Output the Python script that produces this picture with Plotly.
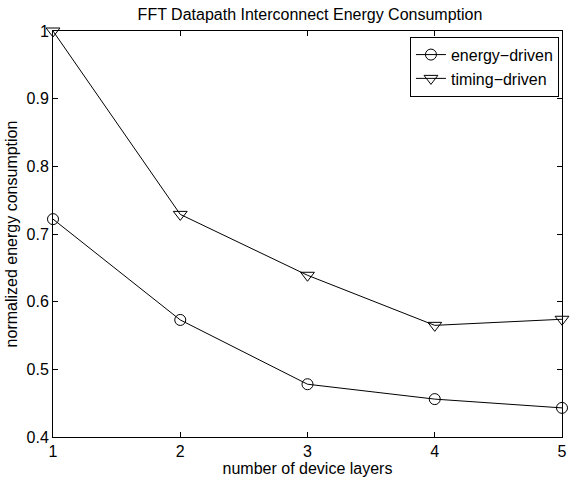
import plotly.graph_objects as go

layers = [1, 2, 3, 4, 5]
energy_driven = [0.722, 0.573, 0.478, 0.456, 0.443]
timing_driven = [1.0, 0.729, 0.639, 0.565, 0.574]
y_ticks = [0.4, 0.5, 0.6, 0.7, 0.8, 0.9, 1.0]
y_ticktext = ["0.4", "0.5", "0.6", "0.7", "0.8", "0.9", "1"]
x_ticks = [1, 2, 3, 4, 5]

FONT = "Liberation Sans, Arial, Helvetica, sans-serif"
FS = 16

fig = go.Figure()
fig.add_trace(go.Scatter(
    x=layers, y=energy_driven, mode="lines+markers", name="energy\u2212driven",
    line=dict(color="black", width=1),
    marker=dict(symbol="circle-open", size=11, color="black", line=dict(width=1)),
    cliponaxis=False,
))
fig.add_trace(go.Scatter(
    x=layers, y=timing_driven, mode="lines+markers", name="timing\u2212driven",
    line=dict(color="black", width=1),
    marker=dict(symbol="triangle-down-open", size=12, color="black", line=dict(width=1)),
    cliponaxis=False,
))

axis_common = dict(
    showgrid=False, zeroline=False, showline=True, linecolor="black", linewidth=1,
    mirror="ticks", ticks="inside", ticklen=5, tickcolor="black", tickwidth=1,
    tickfont=dict(family=FONT, size=FS, color="black"),
    ticklabeloverflow="allow",
)

fig.update_layout(
    width=571, height=481,
    margin=dict(l=53, r=4, t=31, b=44),
    paper_bgcolor="white", plot_bgcolor="white",
    font=dict(family=FONT, size=FS, color="black"),
    title=dict(text="FFT Datapath Interconnect Energy Consumption",
               x=(53 + 567) / 2 / 571, xanchor="center",
               yref="container", y=1 - 14 / 481, yanchor="middle",
               font=dict(family=FONT, size=FS, color="black")),
    xaxis=dict(range=[1, 5], tickvals=x_ticks,
               title=dict(text="number of device layers", standoff=2,
                          font=dict(family=FONT, size=FS, color="black")),
               **axis_common),
    yaxis=dict(range=[0.4, 1.0], tickvals=y_ticks, ticktext=y_ticktext,
               title=dict(text="normalized energy consumption", standoff=4,
                          font=dict(family=FONT, size=FS, color="black")),
               **axis_common),
    showlegend=True,
    legend=dict(x=0.994, y=0.986, xanchor="right", yanchor="top",
                bgcolor="white", bordercolor="black", borderwidth=1,
                font=dict(family=FONT, size=FS, color="black"),
                itemwidth=30, tracegroupgap=0),
)

fig.write_html("out.html")
